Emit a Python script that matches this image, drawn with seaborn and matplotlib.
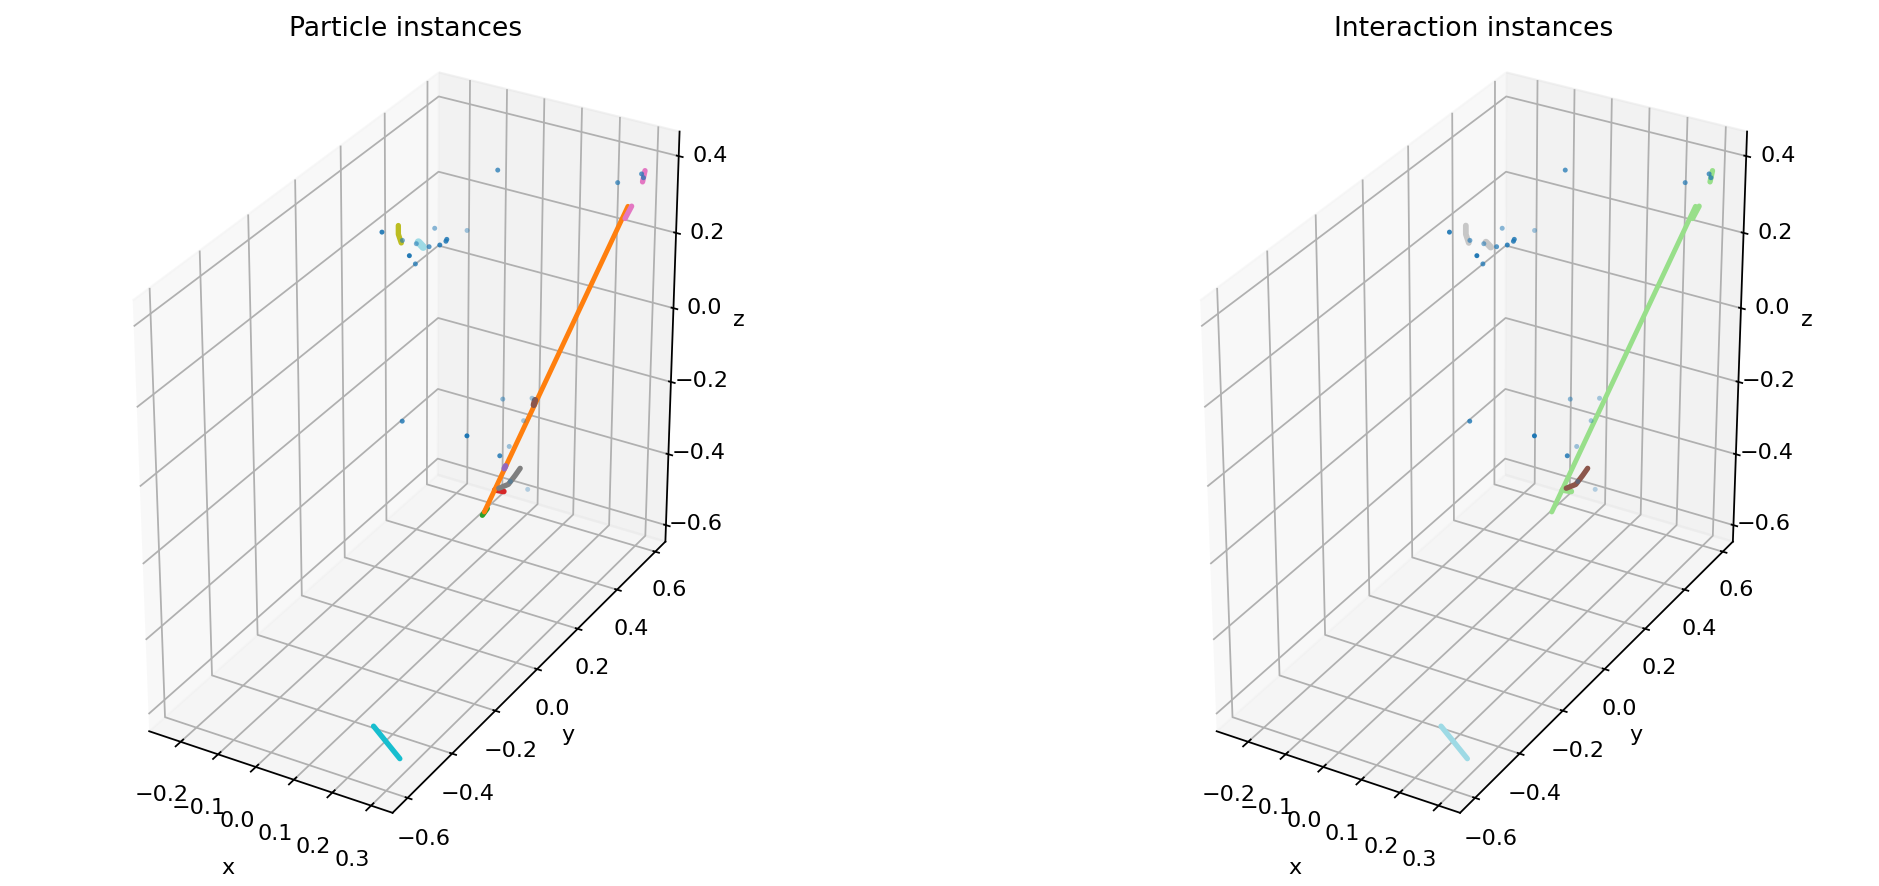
import matplotlib
matplotlib.use('Agg')
import matplotlib.pyplot as plt
import seaborn as sns

tab10 = sns.color_palette('tab10')
tab20 = sns.color_palette('tab20')

x_range = (-0.285, 0.355)
y_range = (-0.666, 0.654)
z_range = (-0.647, 0.463)

# isolated hits
noise_x = [0.035, 0.259, 0.323, 0.323, -0.061, -0.189, -0.189, 0.035, 0.035, 0.035, -0.061, -0.189,
           0.035, -0.061, -0.189, 0.035, 0.035, 0.035, 0.035, 0.259, 0.035, 0.259, 0.035, 0.035]
noise_y = [0.367, 0.535, 0.529, 0.539, 0.005, 0.468, 0.625, 0.131, 0.127, 0.099, 0.218, 0.381,
           -0.038, 0.155, 0.316, 0.404, 0.551, 0.510, -0.071, -0.170, 0.439, -0.017, 0.447, 0.536]
noise_z = [0.408, 0.359, 0.400, 0.386, 0.385, 0.155, 0.079, 0.335, 0.332, 0.335, 0.252, 0.153,
           0.370, 0.236, 0.191, -0.215, -0.285, -0.327, -0.039, 0.037, -0.363, -0.092, -0.465, -0.533]

# track segments, (x, y, z) lists
main_x, main_y, main_z = [0.259, 0.259], [-0.087, 0.591], [-0.204, 0.273]
tip_x, tip_y, tip_z = [0.259, 0.259], [-0.096, -0.073], [-0.208, -0.202]
red_x, red_y, red_z = [0.259, 0.259], [-0.038, 0.004], [-0.171, -0.197]
purple_x, purple_y, purple_z = [0.259, 0.259], [0.005, 0.011], [-0.137, -0.133]
brown_x, brown_y, brown_z = [0.259, 0.259], [0.142, 0.148], [-0.038, -0.028]
pink1_x, pink1_y, pink1_z = [0.323, 0.323], [0.546, 0.535], [0.401, 0.377]
pink2_x, pink2_y, pink2_z = [0.259, 0.259], [0.578, 0.610], [0.247, 0.265]
arc_x, arc_y, arc_z = [0.259, 0.259, 0.259, 0.259], [-0.020, 0.025, 0.057, 0.081], [-0.176, -0.189, -0.182, -0.175]
olive_x, olive_y, olive_z = [-0.061, -0.061, -0.061], [0.078, 0.078, 0.091], [0.369, 0.347, 0.319]
blob_x, blob_y, blob_z = [-0.061, -0.061], [0.169, 0.191], [0.286, 0.263]
cyan_x, cyan_y, cyan_z = [0.291, 0.291], [-0.638, -0.524], [-0.455, -0.609]

particle_tracks = [
    (red_x, red_y, red_z, tab10[3], 2.6),
    (tip_x, tip_y, tip_z, tab10[2], 2.4),
    (main_x, main_y, main_z, tab10[1], 2.2),
    (purple_x, purple_y, purple_z, tab10[4], 2.6),
    (brown_x, brown_y, brown_z, tab10[5], 2.8),
    (pink1_x, pink1_y, pink1_z, tab10[6], 2.4),
    (pink2_x, pink2_y, pink2_z, tab10[6], 2.4),
    (arc_x, arc_y, arc_z, tab10[7], 2.4),
    (olive_x, olive_y, olive_z, tab10[8], 2.4),
    (blob_x, blob_y, blob_z, tab20[19], 3.4),
    (cyan_x, cyan_y, cyan_z, tab10[9], 2.4),
]
interaction_tracks = [
    (red_x, red_y, red_z, tab20[5], 2.6),
    (main_x, main_y, main_z, tab20[5], 2.2),
    (pink1_x, pink1_y, pink1_z, tab20[5], 2.4),
    (pink2_x, pink2_y, pink2_z, tab20[5], 2.4),
    (arc_x, arc_y, arc_z, tab20[10], 2.4),
    (olive_x, olive_y, olive_z, tab20[15], 2.6),
    (blob_x, blob_y, blob_z, tab20[15], 3.0),
    (cyan_x, cyan_y, cyan_z, tab20[19], 2.4),
]

W, H, DPI = 1879, 886, 160
SIDE = 780
MID_X, MID_Y = 406, 439.5


def draw_panel(shift_px, title, tracks):
    left = (MID_X + shift_px - SIDE / 2) / W
    bottom = (H - MID_Y - SIDE / 2) / H
    ax = fig.add_axes([left, bottom, SIDE / W, SIDE / H], projection='3d', computed_zorder=False)
    ax.set_xlim(*x_range, view_margin=0)
    ax.set_ylim(*y_range, view_margin=0)
    ax.set_zlim(*z_range, view_margin=0)
    ax.set_box_aspect((x_range[1] - x_range[0], y_range[1] - y_range[0], z_range[1] - z_range[0]))
    for i, (xs, ys, zs, col, width) in enumerate(tracks):
        ax.plot(xs, ys, zs, color=col, lw=width, solid_capstyle='round', zorder=3 + i)
    ax.scatter(noise_x, noise_y, noise_z, s=5, color=tab10[0], linewidths=0, zorder=20)
    ax.set_xlabel('x')
    ax.set_ylabel('y')
    ax.set_zlabel('z')
    ax.set_title(title)
    return ax


fig = plt.figure(figsize=(W / DPI, H / DPI), dpi=DPI)
draw_panel(0, 'Particle instances', particle_tracks)
draw_panel(1067.5, 'Interaction instances', interaction_tracks)
fig.savefig('out.png', dpi=DPI)
